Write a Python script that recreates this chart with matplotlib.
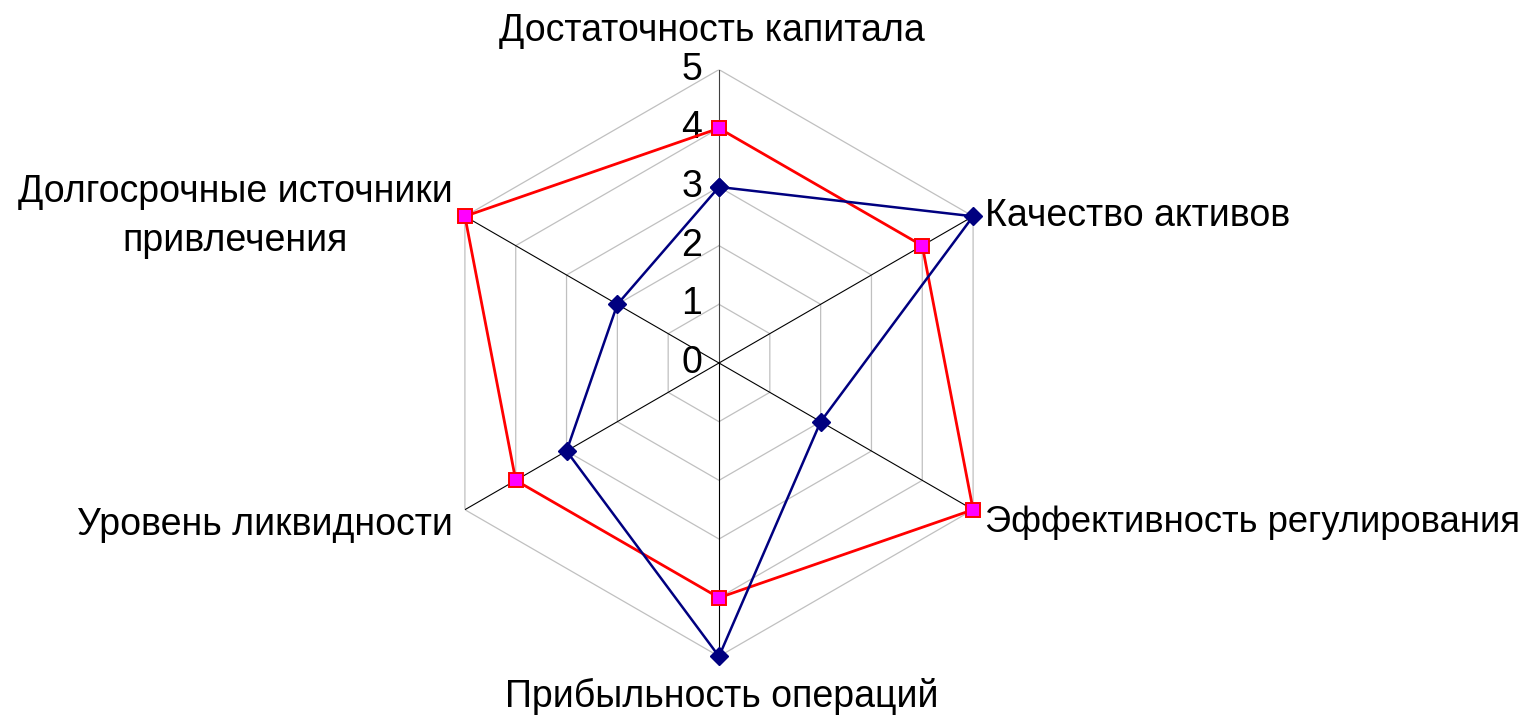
import numpy as np
import matplotlib
matplotlib.use("Agg")
import matplotlib.pyplot as plt

plt.rcParams['font.family'] = ['Liberation Sans', 'DejaVu Sans']

categories = ["Достаточность капитала", "Качество активов", "Эффективность регулирования",
              "Прибыльность операций", "Уровень ликвидности", "Долгосрочные источники\nпривлечения"]
series_blue = [3, 5, 2, 5, 3, 2]
series_red = [4, 4, 5, 4, 4, 5]
r_ticks = [0, 1, 2, 3, 4, 5]

W, H = 1530, 718
fig = plt.figure(figsize=(W / 100, H / 100), dpi=100)
cx, cy, R = 719, 363, 293.4
ax = fig.add_axes([(cx - R) / W, (H - cy - R) / H, 2 * R / W, 2 * R / H], projection='polar')
ax.set_theta_zero_location('N')
ax.set_theta_direction(-1)
ax.set_ylim(0, 5)
ax.grid(False)
ax.set_xticks([])
ax.set_yticks([])
ax.spines['polar'].set_visible(False)
ax.patch.set_visible(False)

n = len(categories)
theta = np.linspace(0, 2 * np.pi, n, endpoint=False)
theta_c = np.append(theta, theta[0])

# hexagonal grid
for r in r_ticks[1:]:
    ax.plot(theta_c, [r] * (n + 1), color='#c0c0c0', lw=0.9, zorder=1)
# spokes
for i, t in enumerate(theta):
    ax.plot([t, t], [0, 5], color='#404040' if i == 0 else 'black', lw=0.8, zorder=2)

ax.plot(theta_c, series_red + series_red[:1], color='#ff0000', lw=2.0, marker='s',
        markersize=10.5, markerfacecolor='#ff00ff', markeredgecolor='#ff0000',
        markeredgewidth=1.4, zorder=4, clip_on=False)
ax.plot(theta_c, series_blue + series_blue[:1], color='#000080', lw=1.8, marker='D',
        markersize=9, markerfacecolor='#000080', markeredgecolor='#000080',
        zorder=5, clip_on=False)

fs = 27
for r in r_ticks:
    ax.annotate(str(r), xy=(0, r), xytext=(-17, 0), textcoords='offset pixels',
                ha='right', va='center', fontsize=fs, color='black', annotation_clip=False)

label_specs = [
    ((-7, 29), 'center', 'baseline', fs),
    ((12, -10), 'left', 'baseline', fs),
    ((12, -22), 'left', 'baseline', 26.2),
    ((3, -51), 'center', 'baseline', fs),
    ((-12, -25), 'right', 'baseline', fs),
    ((-12, 0), 'right', 'center', fs),
]
for t, lab, (off, ha, va, size) in zip(theta, categories, label_specs):
    ax.annotate(lab, xy=(t, 5), xytext=off, textcoords='offset pixels',
                ha=ha, va=va, fontsize=size, multialignment='center', linespacing=1.45,
                annotation_clip=False)

fig.savefig('out.png', dpi=100, facecolor='white')
